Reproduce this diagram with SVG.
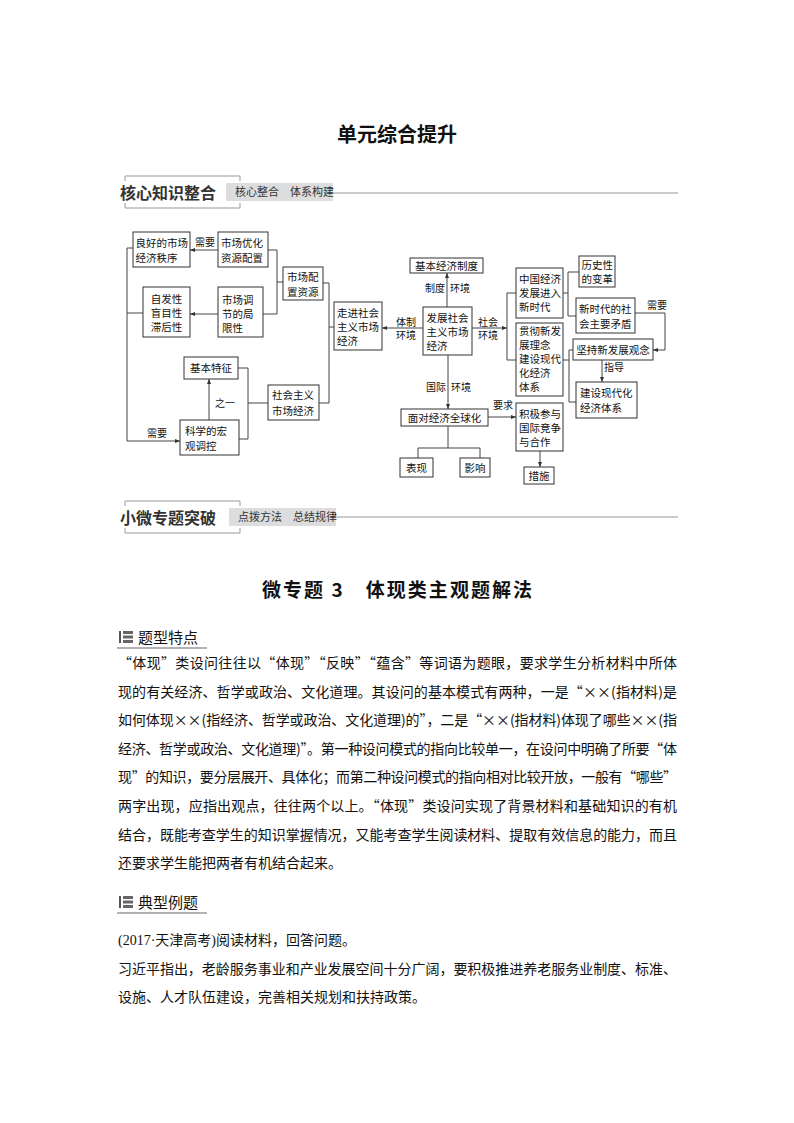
<svg xmlns="http://www.w3.org/2000/svg" width="794" height="1123" viewBox="0 0 794 1123">
<defs>
<marker id="ah" viewBox="0 0 10 10" refX="10" refY="5" markerWidth="5" markerHeight="5" markerUnits="userSpaceOnUse" orient="auto">
<path d="M0,1 L10,5 L0,9 z" fill="#333"/>
</marker>
<style>
text{font-family:"Noto Sans CJK SC","Noto Sans CJK JP",sans-serif;fill:#111}
.bx{fill:#fff;stroke:#333;stroke-width:1}
.t{font-size:10.5px}
.c{text-anchor:middle}
.ln{fill:none;stroke:#444;stroke-width:1}
.ar{fill:none;stroke:#444;stroke-width:1;marker-end:url(#ah)}
.lb{font-size:10px}
.h1{font-size:16px;font-weight:bold;fill:#333}
.h2{font-size:11px;fill:#333}
.hb{fill:#ddd}
.hl{fill:none;stroke:#999;stroke-width:1}
.p{font-size:14px}
.sec{font-size:15px}
</style>
</defs>
<rect width="794" height="1123" fill="#fff"/>

<text x="397" y="142" class="c" font-size="20" font-weight="bold">单元综合提升</text>

<g id="header1">
<path class="hl" d="M125,181 V176 H240 V181 M125,203 V208 H240 V203"/>
<text x="120" y="199" class="h1">核心知识整合</text>
<rect class="hb" x="226" y="183" width="107" height="18"/>
<text x="235" y="196" class="h2">核心整合　体系构建</text>
<line class="hl" x1="333" y1="193" x2="678" y2="193"/>
</g>

<g id="connectors">
<path class="ar" d="M218,250 H190"/>
<path class="ar" d="M218,314 H190"/>
<path class="ln" d="M268,250 H277 V314 H263 M277,282 H283"/>
<path class="ln" d="M323,283 H329 V403 H319 M329,327 H334"/>
<path class="ln" d="M133,248 H127 V441 M143,313 H127"/>
<path class="ar" d="M127,441 H180"/>
<path class="ar" d="M209,420 V379"/>
<path class="ln" d="M238,368 H248 V439 H239 M248,403 H268"/>
<path class="ar" d="M423,328 H382"/>
<path class="ar" d="M447,307 V273"/>
<path class="ar" d="M472,328 H507"/>
<path class="ln" d="M516,293 H507 V360 H516"/>
<path class="ln" d="M563,293 H568 V272 H579 M568,293 V316 H576"/>
<path class="ln" d="M635,313 H665 V350"/>
<path class="ar" d="M665,350 H653"/>
<path class="ar" d="M602,360 V382"/>
<path class="ln" d="M563,360 H569 M573,350 H569 V402 H576"/>
<path class="ar" d="M448,355 V409"/>
<path class="ar" d="M488,417 H516"/>
<path class="ln" d="M448,426 V448 M418,448 H480 M418,448 V458 M480,448 V458"/>
<path class="ar" d="M540,451 V467"/>
<text x="205" y="246" class="lb c">需要</text>
<text x="157" y="437" class="lb c">需要</text>
<text x="225" y="407" class="lb c">之一</text>
<text x="445" y="292" class="lb" text-anchor="end">制度</text>
<text x="450" y="292" class="lb">环境</text>
<text x="406" y="326" class="lb c">体制</text>
<text x="406" y="339" class="lb c">环境</text>
<text x="488" y="326" class="lb c">社会</text>
<text x="488" y="339" class="lb c">环境</text>
<text x="446" y="391" class="lb" text-anchor="end">国际</text>
<text x="451" y="391" class="lb">环境</text>
<text x="503" y="409" class="lb c">要求</text>
<text x="657" y="309" class="lb c">需要</text>
<text x="614" y="371" class="lb c">指导</text>
</g>

<g id="n-lianghao"><rect class="bx" x="133" y="232" width="57" height="35"/>
<text class="t" x="135.5" y="247">良好的市场</text><text class="t" x="135.5" y="262">经济秩序</text></g>
<g id="n-youhua"><rect class="bx" x="218" y="232" width="50" height="35"/>
<text class="t" x="221" y="247">市场优化</text><text class="t" x="221" y="262">资源配置</text></g>
<g id="n-peizhi"><rect class="bx" x="283" y="267" width="40" height="33"/>
<text class="t" x="287" y="281">市场配</text><text class="t" x="287" y="296">置资源</text></g>
<g id="n-zifa"><rect class="bx" x="143" y="287" width="47" height="50"/>
<text class="t c" x="166.5" y="303">自发性</text><text class="t c" x="166.5" y="317">盲目性</text><text class="t c" x="166.5" y="331">滞后性</text></g>
<g id="n-tiaojie"><rect class="bx" x="218" y="287" width="45" height="50"/>
<text class="t" x="222" y="304">市场调</text><text class="t" x="222" y="318">节的局</text><text class="t" x="222" y="332">限性</text></g>
<g id="n-tezheng"><rect class="bx" x="184" y="357" width="54" height="22"/>
<text class="t c" x="211" y="372">基本特征</text></g>
<g id="n-kexue"><rect class="bx" x="180" y="420" width="59" height="35"/>
<text class="t" x="185" y="435">科学的宏</text><text class="t" x="185" y="450">观调控</text></g>
<g id="n-shehui"><rect class="bx" x="268" y="385" width="51" height="35"/>
<text class="t" x="272" y="399">社会主义</text><text class="t" x="272" y="415">市场经济</text></g>
<g id="n-zoujin"><rect class="bx" x="334" y="302" width="48" height="48"/>
<text class="t" x="337" y="317">走进社会</text><text class="t" x="337" y="331">主义市场</text><text class="t" x="337" y="345">经济</text></g>
<g id="n-zhidu"><rect class="bx" x="410" y="258" width="73" height="15"/>
<text class="t c" x="446.5" y="269.5">基本经济制度</text></g>
<g id="n-fazhan"><rect class="bx" x="423" y="307" width="49" height="48"/>
<text class="t" x="426.5" y="322">发展社会</text><text class="t" x="426.5" y="336">主义市场</text><text class="t" x="426.5" y="350">经济</text></g>
<g id="n-zhongguo"><rect class="bx" x="516" y="268" width="47" height="50"/>
<text class="t" x="519" y="283">中国经济</text><text class="t" x="519" y="297">发展进入</text><text class="t" x="519" y="311">新时代</text></g>
<g id="n-guanche"><rect class="bx" x="516" y="323" width="47" height="73"/>
<text class="t" x="519" y="335">贯彻新发</text><text class="t" x="519" y="349">展理念</text><text class="t" x="519" y="363">建设现代</text><text class="t" x="519" y="377">化经济</text><text class="t" x="519" y="391">体系</text></g>
<g id="n-lishi"><rect class="bx" x="579" y="256" width="36" height="31"/>
<text class="t" x="581.5" y="269">历史性</text><text class="t" x="581.5" y="283">的变革</text></g>
<g id="n-xinshidai"><rect class="bx" x="576" y="298" width="59" height="35"/>
<text class="t" x="579" y="313">新时代的社</text><text class="t" x="579" y="328">会主要矛盾</text></g>
<g id="n-jianchi"><rect class="bx" x="573" y="339" width="80" height="21"/>
<text class="t c" x="613" y="353.5">坚持新发展观念</text></g>
<g id="n-jianshe"><rect class="bx" x="576" y="382" width="61" height="36"/>
<text class="t" x="580" y="397">建设现代化</text><text class="t" x="580" y="412">经济体系</text></g>
<g id="n-jiji"><rect class="bx" x="516" y="403" width="47" height="48"/>
<text class="t" x="519" y="418">积极参与</text><text class="t" x="519" y="432">国际竞争</text><text class="t" x="519" y="446">与合作</text></g>
<g id="n-cuoshi"><rect class="bx" x="524" y="467" width="30" height="17"/>
<text class="t c" x="539" y="479.5">措施</text></g>
<g id="n-miandui"><rect class="bx" x="401" y="409" width="87" height="17"/>
<text class="t c" x="444.5" y="421.5">面对经济全球化</text></g>
<g id="n-biaoxian"><rect class="bx" x="400" y="458" width="33" height="19"/>
<text class="t c" x="416.5" y="471.5">表现</text></g>
<g id="n-yingxiang"><rect class="bx" x="460" y="458" width="30" height="19"/>
<text class="t c" x="475" y="471.5">影响</text></g>

<g id="header2">
<path class="hl" d="M125,506 V501 H240 V506 M125,528 V533 H240 V528"/>
<text x="120" y="524" class="h1">小微专题突破</text>
<rect class="hb" x="229" y="508" width="107" height="18"/>
<text x="238" y="521" class="h2">点拨方法　总结规律</text>
<line class="hl" x1="336" y1="517" x2="678" y2="517"/>
</g>

<text x="262" y="597" font-size="19" font-weight="bold" textLength="270" lengthAdjust="spacing">微专题 3　体现类主观题解法</text>

<g id="sec1">
<rect x="119" y="631" width="2" height="12" fill="#555"/>
<rect x="123" y="631" width="10" height="3" fill="#666"/>
<rect x="123" y="635.5" width="10" height="3" fill="#666"/>
<rect x="123" y="640" width="10" height="3" fill="#666"/>
<text x="138" y="643" class="sec">题型特点</text>
<line x1="117" y1="648" x2="207" y2="648" stroke="#666" stroke-width="1.2"/>
</g>

<g id="para1">
<text class="p" x="118" y="668" textLength="559" lengthAdjust="spacing">“体现”类设问往往以“体现”“反映”“蕴含”等词语为题眼，要求学生分析材料中所体</text>
<text class="p" x="118" y="697" textLength="559" lengthAdjust="spacing">现的有关经济、哲学或政治、文化道理。其设问的基本模式有两种，一是“××(指材料)是</text>
<text class="p" x="118" y="725" textLength="559" lengthAdjust="spacing">如何体现××(指经济、哲学或政治、文化道理)的”，二是“××(指材料)体现了哪些××(指</text>
<text class="p" x="118" y="754" textLength="559" lengthAdjust="spacing">经济、哲学或政治、文化道理)”。第一种设问模式的指向比较单一，在设问中明确了所要“体</text>
<text class="p" x="118" y="782" textLength="559" lengthAdjust="spacing">现”的知识，要分层展开、具体化；而第二种设问模式的指向相对比较开放，一般有“哪些”</text>
<text class="p" x="118" y="811" textLength="559" lengthAdjust="spacing">两字出现，应指出观点，往往两个以上。“体现”类设问实现了背景材料和基础知识的有机</text>
<text class="p" x="118" y="840" textLength="559" lengthAdjust="spacing">结合，既能考查学生的知识掌握情况，又能考查学生阅读材料、提取有效信息的能力，而且</text>
<text class="p" x="118" y="868">还要求学生能把两者有机结合起来。</text>
</g>

<g id="sec2">
<rect x="119" y="896" width="2" height="12" fill="#555"/>
<rect x="123" y="896" width="10" height="3" fill="#666"/>
<rect x="123" y="900.5" width="10" height="3" fill="#666"/>
<rect x="123" y="905" width="10" height="3" fill="#666"/>
<text x="138" y="908" class="sec">典型例题</text>
<line x1="117" y1="913" x2="207" y2="913" stroke="#666" stroke-width="1.2"/>
</g>

<g id="example">
<text class="p" x="118" y="945"><tspan font-family="'Liberation Serif',serif">(2017·</tspan>天津高考<tspan font-family="'Liberation Serif',serif">)</tspan>阅读材料，回答问题。</text>
<text class="p" x="118" y="974" textLength="559" lengthAdjust="spacing">习近平指出，老龄服务事业和产业发展空间十分广阔，要积极推进养老服务业制度、标准、</text>
<text class="p" x="118" y="1002">设施、人才队伍建设，完善相关规划和扶持政策。</text>
</g>
</svg>
